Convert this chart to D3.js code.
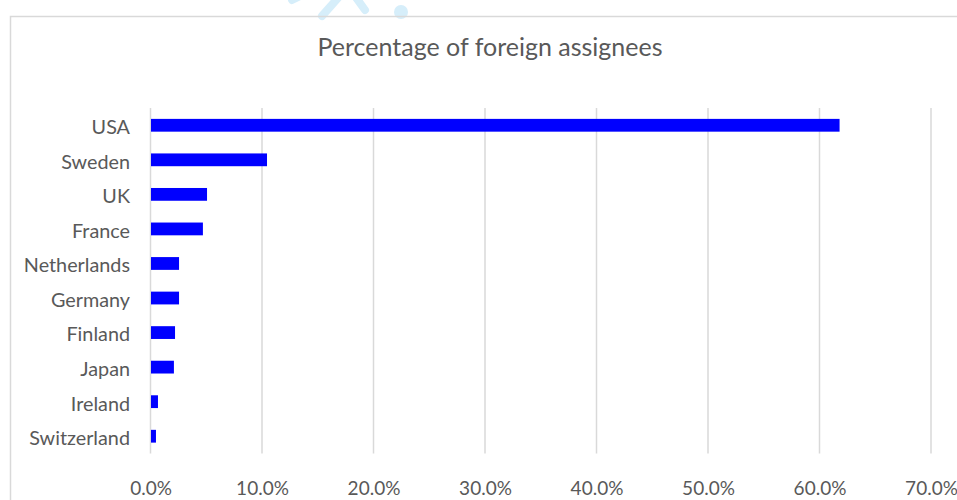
<!DOCTYPE html>
<html>
<head>
<meta charset="utf-8">
<script src="https://cdn.jsdelivr.net/npm/d3@7"></script>
<style>
  html, body { margin: 0; padding: 0; background: #fff; }
  svg { display: block; }
  text { font-family: Lato, "Open Sans", sans-serif; fill: #595959; }
</style>
</head>
<body>
<svg id="chart" width="957" height="500"></svg>
<script>
const categories = ["USA", "Sweden", "UK", "France", "Netherlands", "Germany", "Finland", "Japan", "Ireland", "Switzerland"];
const values = [0.618, 0.1045, 0.0507, 0.047, 0.0256, 0.0256, 0.022, 0.021, 0.0067, 0.0049];
const tickValues = [0, 0.1, 0.2, 0.3, 0.4, 0.5, 0.6, 0.7];
const title = "Percentage of foreign assignees";

const svg = d3.select("#chart");

// faint watermark remnant at top
const wm = svg.append("g").attr("fill", "none").attr("stroke", "#d6eefa").attr("stroke-width", 8).attr("stroke-linecap", "round");
wm.append("path").attr("d", "M292,0 L300,-4");
wm.append("path").attr("d", "M322,16 L345,-10");
wm.append("path").attr("d", "M352,-8 L365,10");
svg.append("circle").attr("cx", 401).attr("cy", 12).attr("r", 7).attr("fill", "#d6eefa");

// chart border
svg.append("rect").attr("x", 10.5).attr("y", 16.5).attr("width", 960).attr("height", 500)
  .attr("fill", "none").attr("stroke", "#d9d9d9").attr("stroke-width", 1.5);

const x = d3.scaleLinear().domain([0, 0.7]).range([150.5, 931]);
const y = d3.scaleBand().domain(categories).range([108, 453.5]).paddingInner(0.63).paddingOuter(0.315);

// gridlines
svg.append("g").selectAll("line").data(tickValues).join("line")
  .attr("x1", d => x(d)).attr("x2", d => x(d))
  .attr("y1", 108).attr("y2", 453.5)
  .attr("stroke", "#d9d9d9").attr("stroke-width", 1.5);

// bars
svg.append("g").selectAll("rect").data(categories).join("rect")
  .attr("x", x(0) + 0.5)
  .attr("y", d => y(d))
  .attr("width", (d, i) => x(values[i]) - x(0) - 0.5)
  .attr("height", y.bandwidth())
  .attr("fill", "#0000ff");

// category axis
const yAxis = d3.axisLeft(y).tickSize(0).tickPadding(0);
const gy = svg.append("g").attr("transform", "translate(130,0)").call(yAxis);
gy.select(".domain").remove();
gy.selectAll("text").style("font-size", "19.8px").attr("fill", "#595959").attr("dy", "0.45em");

// value axis
const xAxis = d3.axisBottom(x).tickValues(tickValues).tickFormat(d3.format(".1%")).tickSize(0).tickPadding(0);
const gx = svg.append("g").attr("transform", "translate(0,488)").call(xAxis);
gx.select(".domain").remove();
gx.selectAll("text").style("font-size", "19px").attr("fill", "#595959").attr("dy", "0.35em");

// title
svg.append("text").attr("x", 490).attr("y", 56).attr("text-anchor", "middle")
  .style("font-size", "25px").text(title);
</script>
</body>
</html>
